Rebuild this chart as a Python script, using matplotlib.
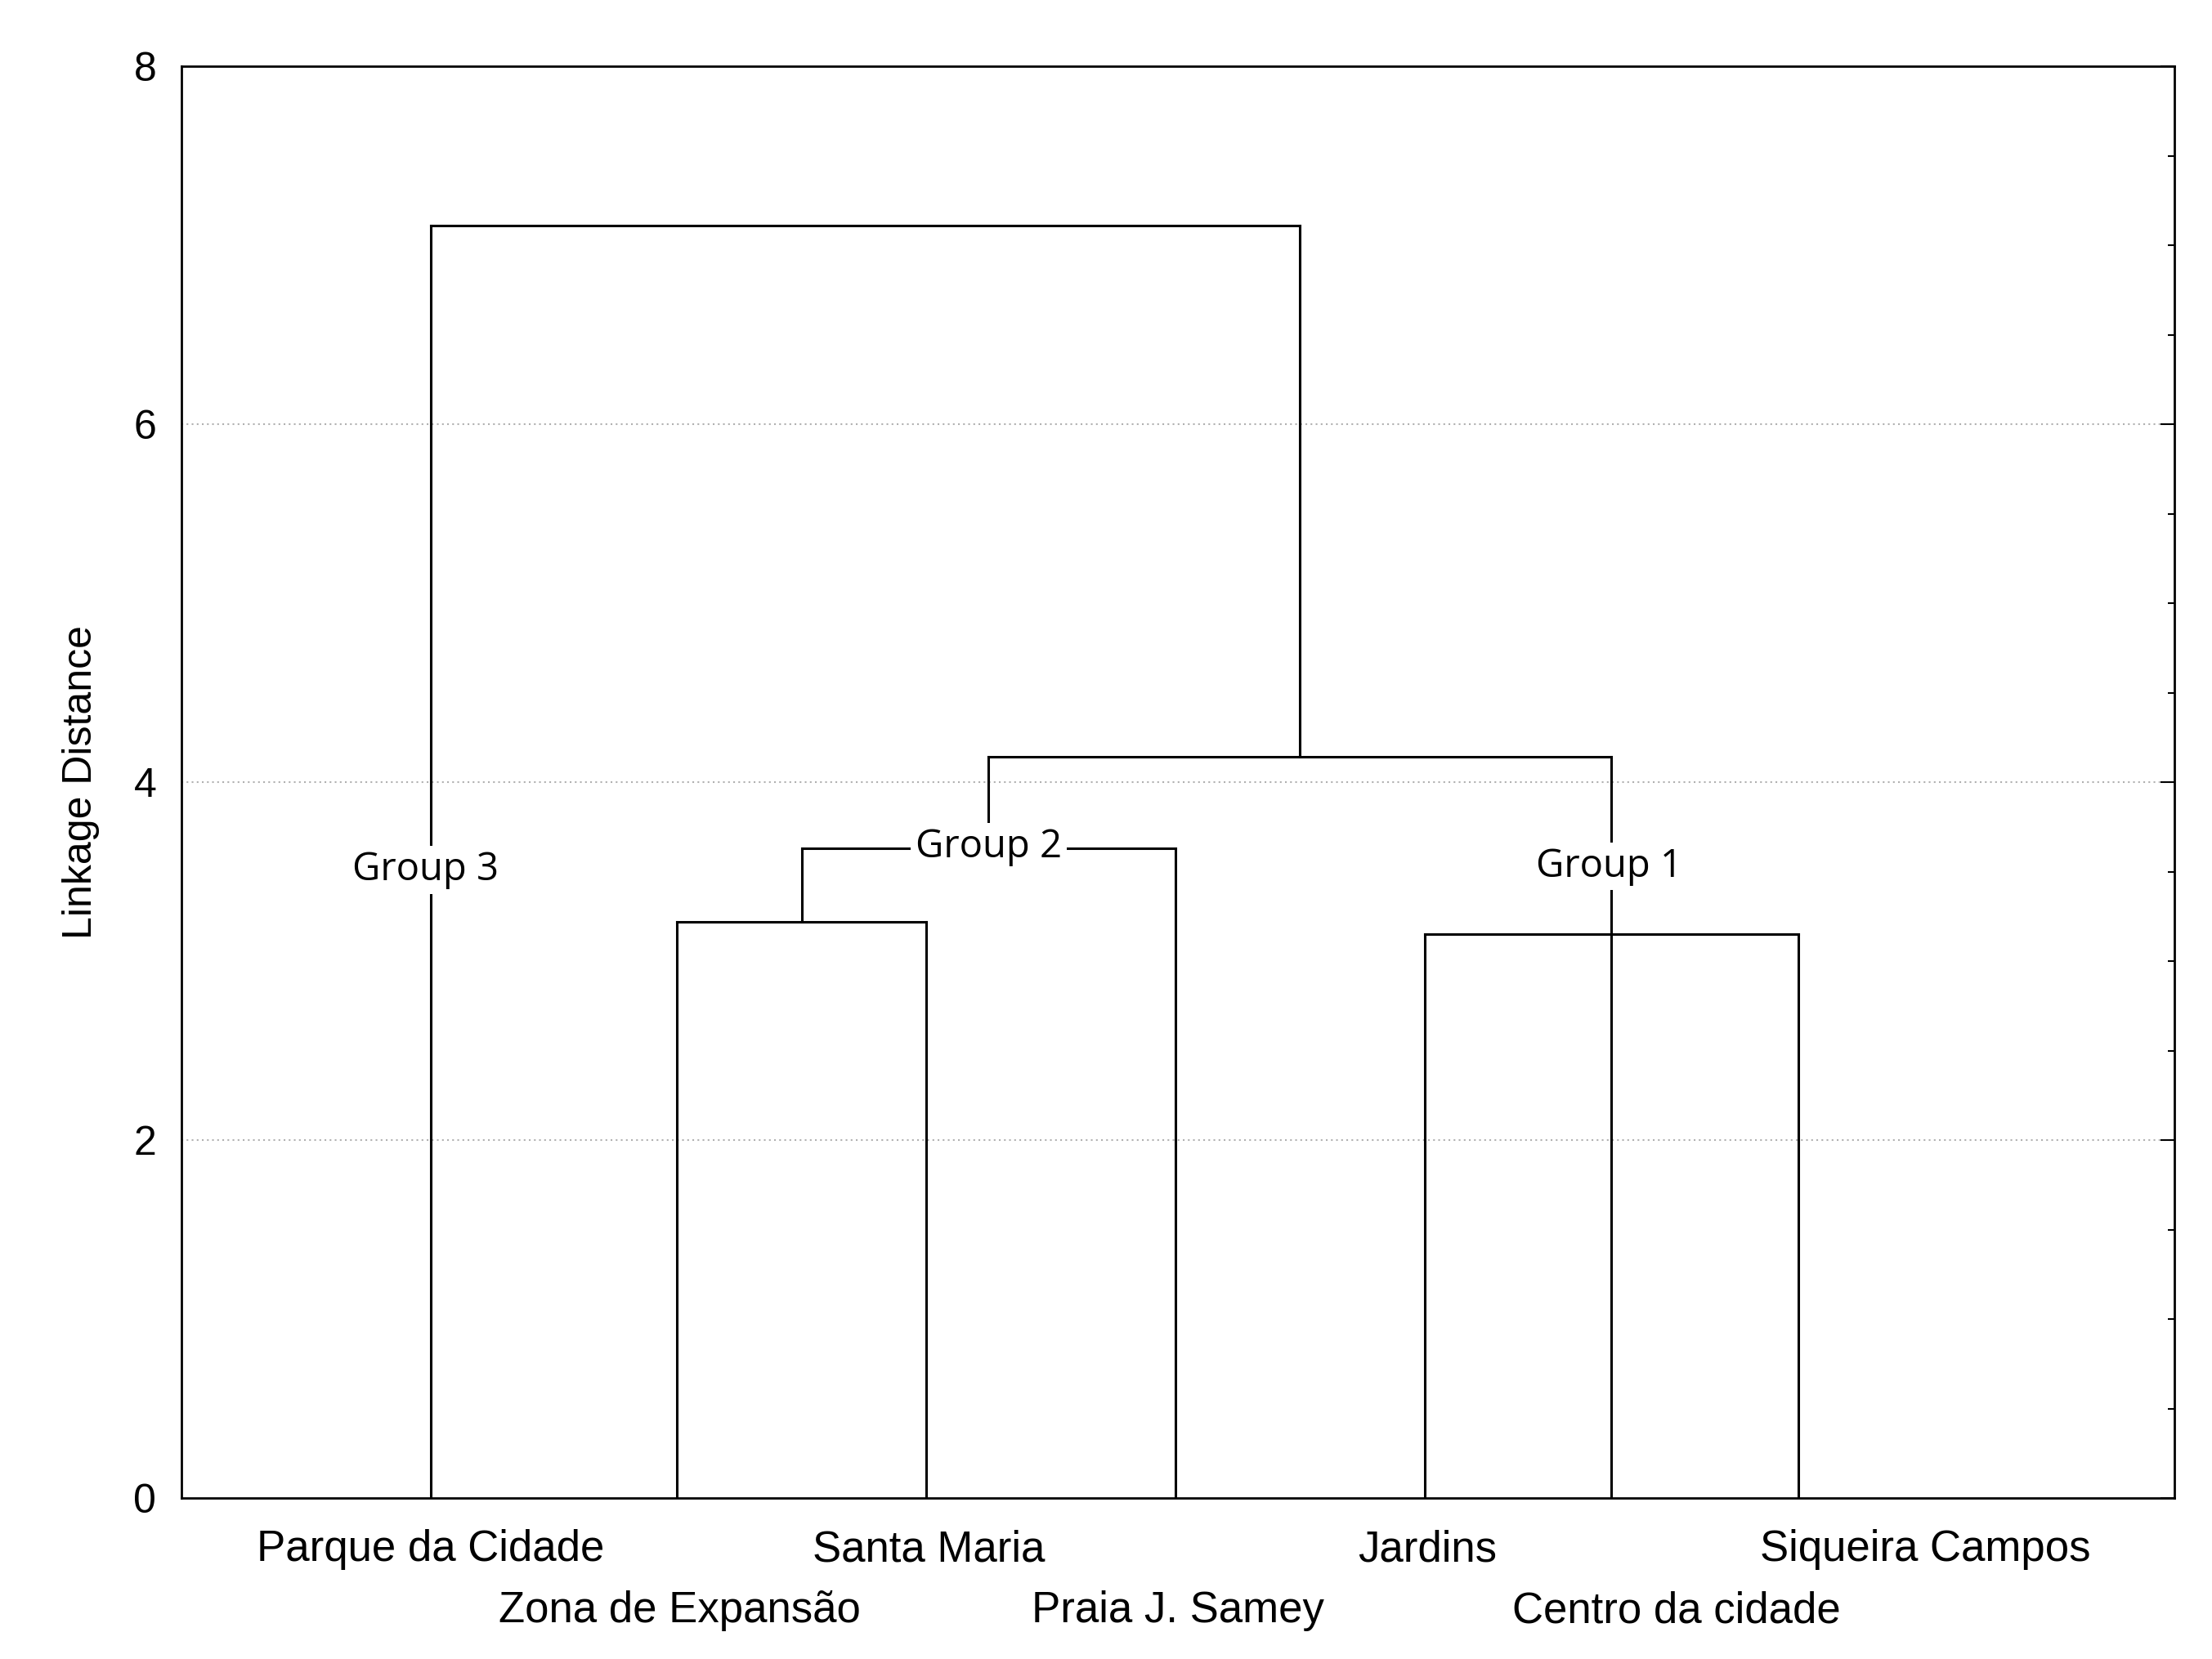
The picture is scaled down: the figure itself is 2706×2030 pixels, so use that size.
import matplotlib.pyplot as plt
from matplotlib.ticker import MultipleLocator
import matplotlib.transforms as mtransforms

plt.rcParams['font.family'] = ['Liberation Sans', 'DejaVu Sans']

# leaf labels and their slots
leaf_names = ["Parque da Cidade", "Zona de Expansão", "Santa Maria", "Praia J. Samey",
              "Jardins", "Centro da cidade", "Siqueira Campos"]
label_pos = [1, 2, 3, 4, 5, 6, 7]

# dendrogram segments as drawn: (x0, x1, y0, y1)
segments = [
    (1.0, 1.0, 0.0, 7.11),      # Parque da Cidade
    (1.0, 4.49, 7.11, 7.11),    # top link
    (4.49, 4.49, 4.14, 7.11),
    (3.24, 5.74, 4.14, 4.14),   # group 1 + group 2
    (3.24, 3.24, 3.63, 4.14),
    (2.49, 3.99, 3.63, 3.63),   # group 2
    (2.49, 2.49, 3.22, 3.63),
    (1.99, 2.99, 3.22, 3.22),   # Zona + Santa Maria
    (1.99, 1.99, 0.0, 3.22),
    (2.99, 2.99, 0.0, 3.22),
    (3.99, 3.99, 0.0, 3.63),    # Praia
    (4.99, 6.49, 3.15, 3.15),   # Jardins + Siqueira
    (4.99, 4.99, 0.0, 3.15),
    (6.49, 6.49, 0.0, 3.15),
    (5.74, 5.74, 0.0, 4.14),    # Centro
]

group_names = ["Group 3", "Group 2", "Group 1"]
group_x = [0.98, 3.24, 5.73]
group_y = [3.51, 3.64, 3.53]

fig = plt.figure(figsize=(27.06, 20.30), dpi=100)
ax = fig.add_axes([0.082, 0.097, 0.901, 0.863])

for y in [2, 4, 6]:
    ax.axhline(y, color="#b0b0b0", linestyle=(0, (1, 2)), linewidth=1.5, zorder=1)

for x0, x1, y0, y1 in segments:
    ax.plot([x0, x1], [y0, y1], color="black", linewidth=2.2, zorder=2)

for name, gx, gy in zip(group_names, group_x, group_y):
    ax.text(gx, gy, name, ha="center", va="center", fontsize=34,
            family=["Open Sans", "DejaVu Sans"],
            bbox=dict(facecolor="white", edgecolor="none", pad=4), zorder=3)

ax.set_xlim(0, 8)
ax.set_ylim(0, 8)
ax.set_xticks([])
ax.yaxis.set_major_locator(MultipleLocator(2))
ax.yaxis.set_minor_locator(MultipleLocator(0.5))
ax.tick_params(axis="y", which="both", right=True, direction="in", labelsize=36,
               width=1.5)
ax.tick_params(axis="y", which="major", length=12, pad=22)
ax.tick_params(axis="y", which="minor", length=6)
ax.tick_params(axis="y", which="both", left=False)
for s in ax.spines.values():
    s.set_linewidth(2)
ax.set_ylabel("Linkage Distance", fontsize=36, labelpad=30)

trans = mtransforms.blended_transform_factory(ax.transData, ax.transAxes)
for i, (name, px) in enumerate(zip(leaf_names, label_pos)):
    yy = -0.036 if i % 2 == 0 else -0.079
    ax.text(px, yy, name, ha="center", va="center", fontsize=38, transform=trans)

fig.savefig("out.png", dpi=100)
